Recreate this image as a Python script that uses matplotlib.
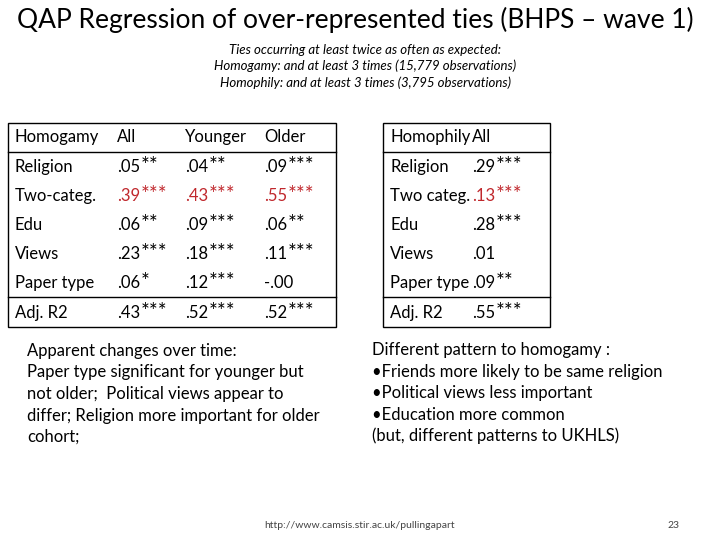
import matplotlib
matplotlib.use("Agg")
import matplotlib.pyplot as plt
from matplotlib.patches import Rectangle
from matplotlib.lines import Line2D

plt.rcParams['font.family'] = ['Lato', 'DejaVu Sans']

left_header = ["Homogamy", "All", "Younger", "Older"]
left_rows = ["Religion", "Two-categ.", "Edu", "Views", "Paper type", "Adj. R2"]
left_all = [".05**", ".39***", ".06**", ".23***", ".06*", ".43***"]
left_young = [".04**", ".43***", ".09***", ".18***", ".12***", ".52***"]
left_old = [".09***", ".55***", ".06**", ".11***", "-.00", ".52***"]

right_header = ["Homophily", "All"]
right_rows = ["Religion", "Two categ.", "Edu", "Views", "Paper type", "Adj. R2"]
right_all = [".29***", ".13***", ".28***", ".01", ".09**", ".55***"]

W, H = 720, 540
fig = plt.figure(figsize=(7.2, 5.4), dpi=100)
fig.patch.set_facecolor("white")

def T(x, y, s, **kw):
    fig.text(x / W, 1 - y / H, s, **kw)

def box(x0, y0, x1, y1):
    fig.add_artist(Rectangle((x0 / W, 1 - y1 / H), (x1 - x0) / W, (y1 - y0) / H,
                             transform=fig.transFigure, fill=False, lw=1, ec="black"))

def hline(x0, x1, y):
    fig.add_artist(Line2D([x0 / W, x1 / W], [1 - y / H] * 2, transform=fig.transFigure,
                          color="black", lw=1))

def val(x, y, s, c, fs):
    # number part and asterisks (asterisks drawn larger, like Calibri)
    num = s.rstrip("*")
    stars = s[len(num):]
    t = fig.text(x / W, 1 - y / H, num, va="center", fontsize=fs, color=c)
    if stars:
        fig.canvas.draw() if not hasattr(val, "r") else None
        val.r = True
        r = fig.canvas.get_renderer()
        bb = t.get_window_extent(r)
        fig.text(bb.x1 / W + 0.5 / W, 1 - (y - 1) / H, stars, va="center", fontsize=fs * 1.25, color=c)

T(355, 20, "QAP Regression of over-represented ties (BHPS \u2013 wave 1)", ha="center", va="center", fontsize=19)
for y, s in zip([50, 66, 83], ["Ties occurring at least twice as often as expected:",
                               "Homogamy: and at least 3 times (15,779 observations)",
                               "Homophily: and at least 3 times (3,795 observations)"]):
    T(365, y, s, ha="center", va="center", fontsize=9.5, style="italic")

ys = [137, 167, 196, 225, 254, 283, 313]
red = "#c0282d"
fs = 12
box(8, 123, 336, 327)
hline(8, 336, 152)
hline(8, 336, 297)
lx = [15, 117, 185, 264]
for x, s in zip(lx, left_header):
    T(x, ys[0], s, va="center", fontsize=fs)
for i, r in enumerate(left_rows):
    c = red if i == 1 else "black"
    T(lx[0], ys[i + 1], r, va="center", fontsize=fs)
    val(lx[1], ys[i + 1], left_all[i], c, fs)
    val(lx[2], ys[i + 1], left_young[i], c, fs)
    val(lx[3], ys[i + 1], left_old[i], c, fs)

box(383, 123, 550, 327)
hline(383, 550, 152)
hline(383, 550, 297)
rx = [390, 472]
for x, s in zip(rx, right_header):
    T(x, ys[0], s, va="center", fontsize=fs)
for i, r in enumerate(right_rows):
    c = red if i == 1 else "black"
    T(rx[0], ys[i + 1], r, va="center", fontsize=fs)
    val(rx[1], ys[i + 1], right_all[i], c, fs)

left_note = ["Apparent changes over time:", "Paper type significant for younger but",
             "not older;  Political views appear to", "differ; Religion more important for older", "cohort;"]
for k, s in enumerate(left_note):
    T(27, 351 + k * 21.5, s, va="center", fontsize=12)
right_note = ["Different pattern to homogamy :", "\u2022Friends more likely to be same religion",
              "\u2022Political views less important", "\u2022Education more common",
              "(but, different patterns to UKHLS)"]
for k, s in enumerate(right_note):
    T(372, 350 + k * 21.5, s, va="center", fontsize=12)

T(360, 525, "http://www.camsis.stir.ac.uk/pullingapart", ha="center", va="center", fontsize=7.5, color="#444444")
T(673, 525, "23", ha="center", va="center", fontsize=7.5, color="#444444")

fig.savefig("out.png", dpi=100)
